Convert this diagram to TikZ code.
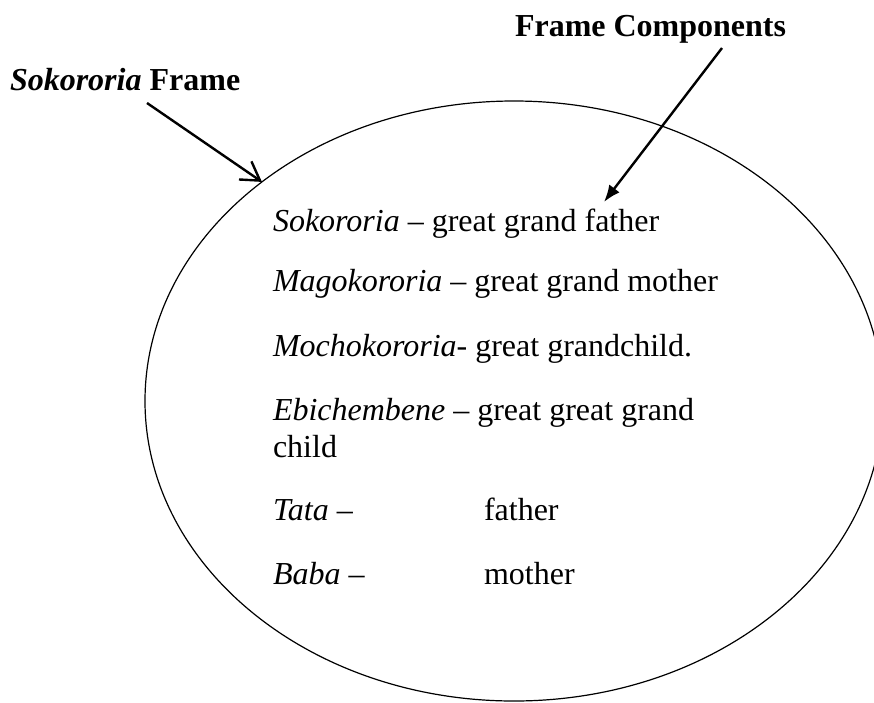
\documentclass[tikz,border=0pt]{standalone}
\usepackage{fontspec}
\setmainfont{Liberation Serif}
\usetikzlibrary{arrows.meta,shapes.geometric}
\begin{document}
\begin{tikzpicture}[x=1pt,y=-1pt,
  every node/.style={inner sep=0pt, outer sep=0pt},
  body/.style={anchor=base west, font=\fontsize{32}{37}\selectfont},
  heading/.style={anchor=base west, font=\fontsize{32}{38}\selectfont\bfseries},
  pointer/.style={line width=2.4pt},
  framering/.style={draw, ellipse, line width=1.2pt,
    minimum width=738pt, minimum height=600pt}]
\useasboundingbox (0,0) rectangle (874,702);

% the frame ring, cut off by the page edges
\begin{scope}
  \clip (0,0) rectangle (874,702);
  \node[framering] (frame) at (514,401) {};
\end{scope}

% headings
\node[heading] (ttl) at (515,36) {Frame Components};
\node[heading] (ltl) at (10,90) {\textit{Sokororia} Frame};

% kinship terms
\node[body] (r1) at (273,231) {\textit{Sokororia} – great grand father};
\node[body] (r2) at (273,291) {\textit{Magokororia} – great grand mother};
\node[body] (r3) at (273,356) {\textit{Mochokororia}- great grandchild.};
\node[body] (r4) at (273,420) {\textit{Ebichembene} – great great grand};
\node[body] (r4b) at (273,457) {child};
\node[body] (r5) at (273,520) {\makebox[211pt][l]{\textit{Tata} –}father};
\node[body] (r6) at (273,584) {\makebox[211pt][l]{\textit{Baba} –}mother};

% pointers
\coordinate (p1) at (147,103);
\coordinate (p2) at (722,48);
\coordinate (p3) at (604,202);
\draw[pointer, -{Straight Barb[length=18pt, width=22pt]}] (p1) -- (frame.139.8);
\draw[pointer, -{Latex[length=17pt, width=13pt]}] (p2) -- (p3);
\end{tikzpicture}
\end{document}
